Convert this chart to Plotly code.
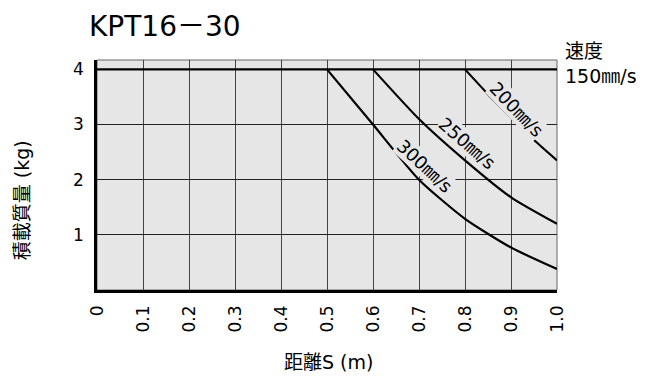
import plotly.graph_objects as go

# 距離 S (m) / 積載質量 (kg)
x_150 = [0.0, 1.0]
y_150 = [4.0, 4.0]

x_200 = [0.8, 0.85, 0.9, 0.95, 1.0]
y_200 = [4.0, 3.55, 3.13, 2.72, 2.35]

x_250 = [0.6, 0.7, 0.8, 0.9, 1.0]
y_250 = [4.0, 3.1, 2.35, 1.68, 1.2]

x_300 = [0.5, 0.6, 0.7, 0.8, 0.9, 1.0]
y_300 = [4.0, 3.0, 2.0, 1.29, 0.77, 0.38]

x_ticks = [0, 0.1, 0.2, 0.3, 0.4, 0.5, 0.6, 0.7, 0.8, 0.9, 1.0]
x_labels = ["0", "0.1", "0.2", "0.3", "0.4", "0.5", "0.6", "0.7", "0.8", "0.9", "1.0"]
y_ticks = [1, 2, 3, 4]
y_labels = ["1", "2", "3", "4"]

FONT = "DejaVu Sans, Noto Sans CJK JP"
BG = "#e6e6e6"

fig = go.Figure()
for xs, ys in [(x_150, y_150), (x_200, y_200), (x_250, y_250), (x_300, y_300)]:
    fig.add_trace(go.Scatter(x=xs, y=ys, mode="lines",
                             line=dict(color="black", width=2.2, shape="spline", smoothing=0.6),
                             showlegend=False, hoverinfo="skip"))

# border top / right (grey)
fig.add_shape(type="rect", xref="paper", yref="paper", x0=0, y0=0, x1=1, y1=1,
              line=dict(color="#666", width=1), layer="below")

# curve labels
for txt, x, y, ang in [("200㎜/s", 0.913, 3.28, 46),
                       ("250㎜/s", 0.805, 2.65, 41),
                       ("300㎜/s", 0.714, 2.245, 43)]:
    fig.add_annotation(x=x, y=y, text=txt, textangle=ang, showarrow=False,
                       bgcolor=BG, borderpad=0,
                       font=dict(family=FONT, size=18, color="black"))

fig.add_annotation(xref="paper", yref="paper", x=1.013, y=0.985, xanchor="left", yanchor="middle",
                   text="速度<br>150㎜/s", showarrow=False, align="left",
                   font=dict(family=FONT, size=19, color="black"))

fig.add_annotation(xref="paper", yref="paper", x=-0.022, y=1.145, xanchor="left", yanchor="middle",
                   text="KPT16－30", showarrow=False,
                   font=dict(family=FONT, size=28, color="black"))

fig.add_annotation(xref="paper", yref="paper", x=-0.163, y=0.39, textangle=-90,
                   xanchor="center", yanchor="middle",
                   text="積載質量 (kg)", showarrow=False,
                   font=dict(family=FONT, size=19, color="black"))

fig.add_annotation(xref="paper", yref="paper", x=0.503, y=-0.313,
                   xanchor="center", yanchor="middle",
                   text="距離S (m)", showarrow=False,
                   font=dict(family=FONT, size=19, color="black"))

fig.update_xaxes(range=[0, 1.0], tickvals=x_ticks, ticktext=x_labels, tickangle=-90,
                 showgrid=True, gridcolor="#444", gridwidth=1, zeroline=False,
                 showline=True, linecolor="black", linewidth=2.5,
                 ticks="", ticklabelstandoff=6, automargin=False,
                 tickfont=dict(family=FONT, size=17, color="black"))
fig.update_yaxes(range=[0, 4.17], tickvals=y_ticks, ticktext=y_labels,
                 showgrid=True, gridcolor="#222", gridwidth=1, zeroline=False,
                 showline=True, linecolor="black", linewidth=2.5,
                 ticks="", ticklabelstandoff=7, automargin=False,
                 tickfont=dict(family=FONT, size=17, color="black"))

fig.update_layout(width=658, height=381, margin=dict(l=97, r=101, t=60, b=91),
                  plot_bgcolor=BG, paper_bgcolor="white",
                  font=dict(family=FONT))

fig.write_html("out.html", config={"displayModeBar": False},
               post_script="document.body.style.margin='0';")
